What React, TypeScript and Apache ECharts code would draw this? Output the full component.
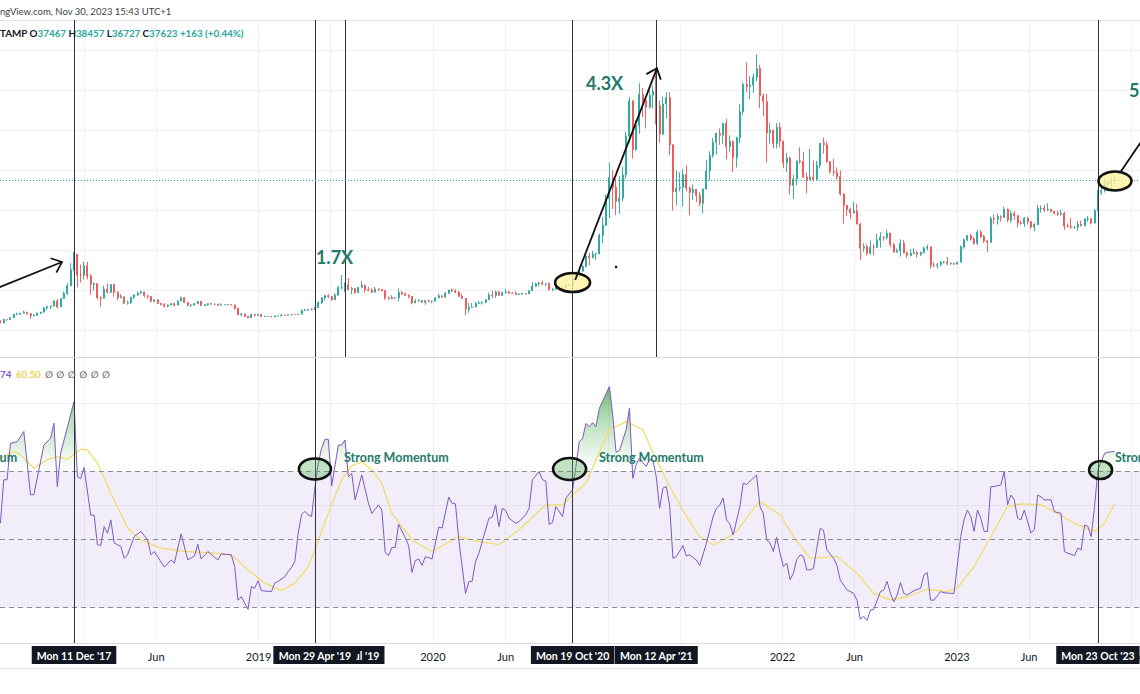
import React, { useEffect, useRef } from 'react';
import * as echarts from 'echarts';

const DAY = 86400000;
const WEEK = 7 * DAY;
const T0 = Date.UTC(2017, 6, 10); // first weekly candle: Mon 10 Jul 2017
const XMIN = T0 - 0.84 * DAY;
const XMAX = XMIN + 2384.9 * DAY;
const wk = (w: number) => T0 + w * WEEK;

// Weekly BTCUSD candles, [open, high, low, close] in $ thousands
const candles2017 = [
  [2.51,2.54,1.84,1.93],[1.93,2.95,1.93,2.75],[2.75,2.82,2.45,2.73],[2.73,3.27,2.62,3.23],[3.23,4.18,3.18,4.07],
  [4.07,4.48,3.91,4.09],[4.09,4.38,3.95,4.35],[4.35,4.98,4.30,4.58],[4.58,4.73,4.01,4.21],[4.21,4.35,2.97,3.68],
  [3.68,4.12,3.51,3.78],[3.78,4.48,3.76,4.37],[4.37,4.64,4.15,4.60],[4.60,5.86,4.57,5.69],[5.69,6.19,5.10,6.00],
  [6.00,6.20,5.38,6.14],[6.14,7.60,6.05,7.36],[7.36,7.90,5.50,5.95],[5.95,8.10,5.85,8.00],[8.00,9.75,7.95,9.30],
  [9.30,11.85,8.90,11.20],[11.20,16.85,11.10,15.20],[15.20,19.67,15.00,19.10],[19.10,19.10,10.80,13.90],[13.90,16.50,12.00,13.88],
];
const candles2018 = [
  [13.88,17.25,12.75,16.20],[16.20,17.17,12.80,13.60],[13.60,14.10,9.00,11.55],[11.55,12.00,9.98,11.75],[11.75,11.75,7.80,8.20],
  [8.20,8.56,6.00,8.10],[8.10,11.20,8.00,10.40],[10.40,11.80,9.30,9.60],[9.60,11.55,9.40,11.50],[11.50,11.70,8.50,9.55],
  [9.55,9.90,7.65,8.20],[8.20,9.10,8.10,8.45],[8.45,8.50,6.60,6.85],[6.85,7.50,6.45,7.02],[7.02,8.40,6.65,8.35],
  [8.35,9.00,7.85,8.92],[8.92,9.75,8.65,9.40],[9.40,9.99,9.05,9.65],[9.65,9.70,8.35,8.70],[8.70,8.85,7.95,8.53],
  [8.53,8.55,7.05,7.35],[7.35,7.75,7.05,7.70],[7.70,7.75,6.65,6.78],[6.78,6.90,6.30,6.50],[6.50,6.85,5.75,6.15],
  [6.15,6.45,5.80,6.39],[6.39,6.85,6.30,6.75],[6.75,6.80,6.08,6.35],[6.35,7.55,6.33,7.40],[7.40,8.50,7.35,8.20],
  [8.20,8.30,6.90,7.03],[7.03,7.15,6.10,6.30],[6.30,6.60,5.88,6.40],[6.40,6.80,6.25,6.72],[6.72,7.35,6.70,7.30],
  [7.30,7.40,6.10,6.25],[6.25,6.60,6.20,6.52],[6.52,6.80,6.15,6.71],[6.71,6.80,6.50,6.63],[6.63,6.70,6.50,6.60],
  [6.60,6.70,6.20,6.30],[6.30,6.80,6.30,6.48],[6.48,6.55,6.40,6.48],[6.48,6.55,6.30,6.48],[6.48,6.55,6.35,6.40],
  [6.40,6.45,5.20,5.60],[5.60,5.60,3.80,4.00],[4.00,4.40,3.60,4.15],[4.15,4.20,3.35,3.60],[3.60,3.60,3.12,3.20],
  [3.20,4.20,3.20,3.95],[3.95,4.25,3.60,3.85],
];
const candles2019 = [
  [3.85,4.10,3.70,4.05],[4.05,4.10,3.45,3.50],[3.50,3.75,3.50,3.55],[3.55,3.65,3.45,3.55],[3.55,3.57,3.35,3.42],
  [3.42,3.70,3.37,3.65],[3.65,3.70,3.55,3.65],[3.65,4.20,3.65,3.85],[3.85,3.90,3.70,3.82],[3.82,3.95,3.70,3.93],
  [3.93,4.05,3.82,4.00],[4.00,4.10,3.92,3.99],[3.99,4.15,3.90,4.10],[4.10,5.35,4.10,5.05],[5.05,5.45,4.90,5.08],
  [5.08,5.40,5.00,5.30],[5.30,5.65,5.05,5.20],[5.20,5.80,5.15,5.75],[5.75,7.35,5.60,6.98],[6.98,8.35,6.60,8.20],
  [8.20,8.90,7.50,8.70],[8.70,9.10,8.10,8.56],[8.56,8.60,7.45,7.70],[7.70,9.35,7.65,8.85],[8.85,11.20,8.85,10.80],
  [10.80,13.88,10.30,10.80],[10.80,12.00,9.65,11.45],[11.45,13.15,10.10,10.20],[10.20,10.95,9.10,10.50],[10.50,10.65,9.20,9.50],
  [9.50,10.90,9.35,10.80],[10.80,12.30,10.80,11.30],[11.30,11.50,9.50,10.20],[10.20,10.95,9.80,10.10],[10.10,10.60,9.35,9.60],
  [9.60,10.90,9.60,10.40],[10.40,10.45,9.90,10.30],[10.30,10.35,9.75,10.00],[10.00,10.05,7.70,8.20],[8.20,8.50,7.75,7.95],
  [7.95,8.85,7.85,8.30],[8.30,8.40,7.90,8.20],[8.20,10.54,7.30,9.55],[9.55,9.90,8.90,9.20],[9.20,9.50,8.70,8.80],
  [8.80,9.10,8.00,8.50],[8.50,8.50,6.55,6.90],[6.90,7.85,6.90,7.40],[7.40,7.80,7.25,7.50],[7.50,7.60,6.90,7.10],
  [7.10,7.60,6.45,7.50],[7.50,7.65,7.05,7.30],
];
const candles2020 = [
  [7.30,7.50,6.85,7.35],[7.35,8.45,7.35,8.15],[8.15,9.20,8.10,8.70],[8.70,8.80,8.25,8.35],[8.35,9.60,8.25,9.35],
  [9.35,10.15,9.10,10.15],[10.15,10.50,9.70,9.90],[9.90,10.30,9.30,9.65],[9.65,9.95,8.40,8.55],[8.55,9.20,7.95,8.05],
  [8.05,8.15,3.85,5.35],[5.35,6.90,4.45,5.80],[5.80,6.85,5.75,5.90],[5.90,7.20,5.85,6.80],[6.80,7.45,6.70,6.90],
  [6.90,7.30,6.50,7.10],[7.10,7.75,6.80,7.70],[7.70,9.45,7.70,8.90],[8.90,10.00,8.10,8.75],[8.75,9.95,8.20,9.65],
  [9.65,9.90,8.70,8.80],[8.80,9.75,8.65,9.45],[9.45,10.40,9.30,9.65],[9.65,9.95,9.05,9.40],[9.40,9.60,9.20,9.30],
  [9.30,9.80,8.90,9.00],[9.00,9.35,8.90,9.08],[9.08,9.45,9.05,9.25],[9.25,9.35,9.00,9.17],[9.17,10.00,9.15,9.95],
  [9.95,12.10,9.90,11.10],[11.10,12.00,10.95,11.70],[11.70,12.20,11.10,11.90],[11.90,12.50,11.40,11.65],[11.65,11.80,11.10,11.70],
  [11.70,12.05,9.90,10.25],[10.25,10.60,9.85,10.30],[10.30,11.10,10.20,10.90],[10.90,10.95,10.15,10.75],[10.75,10.95,10.40,10.65],
  [10.65,11.50,10.55,11.30],[11.30,11.70,11.20,11.50],[11.50,13.35,11.40,13.05],[13.05,14.10,12.80,13.75],[13.75,15.95,13.30,14.85],
  [14.85,16.45,14.80,16.00],[16.00,18.90,15.80,18.65],[18.65,19.45,16.30,18.20],[18.20,19.90,18.10,19.15],[19.15,19.40,17.60,19.25],
  [19.25,24.25,19.00,23.85],[23.85,28.40,21.85,26.30],
];
const candles2021 = [
  [26.30,34.00,26.10,33.00],[33.00,41.95,28.10,38.20],[38.20,40.10,30.40,35.80],[35.80,37.85,28.85,32.25],[32.25,38.55,29.20,33.10],
  [33.10,40.95,32.30,38.90],[38.90,49.70,37.90,48.60],[48.60,58.35,47.00,57.40],[57.40,57.50,43.00,45.20],[45.20,52.60,44.95,51.20],
  [51.20,61.80,49.20,59.00],[59.00,60.60,53.30,57.50],[57.50,58.40,50.50,55.80],[55.80,60.00,55.50,58.80],[58.80,61.20,55.50,59.80],
  [59.80,64.90,51.50,56.20],[56.20,57.50,47.00,49.10],[49.10,58.40,48.80,56.60],[56.60,59.50,53.00,58.20],[58.20,59.60,43.80,46.40],
  [46.40,46.60,30.00,34.70],[34.70,40.00,31.20,35.60],[35.60,39.50,34.80,35.80],[35.80,40.40,31.00,39.00],[39.00,41.30,34.80,35.60],
  [35.60,36.00,28.80,34.50],[34.50,36.50,32.70,35.30],[35.30,35.30,32.10,33.80],[33.80,34.60,31.10,31.80],[31.80,35.40,29.30,35.40],
  [35.40,42.60,35.20,39.90],[39.90,44.80,37.50,43.80],[43.80,48.10,43.20,47.00],[47.00,49.40,43.95,49.30],[49.30,50.50,46.40,48.80],
  [48.80,51.90,46.60,51.80],[51.80,52.90,42.80,46.00],[46.00,48.80,44.70,47.30],[47.30,47.50,39.60,43.20],[43.20,48.40,40.75,48.20],
  [48.20,56.60,46.90,54.70],[54.70,62.00,53.90,61.50],[61.50,67.00,59.50,60.90],[60.90,63.70,57.80,61.30],[61.30,64.30,59.40,63.30],
  [63.30,69.00,62.30,65.50],[65.50,66.40,55.60,58.70],[58.70,59.20,53.50,57.20],[57.20,59.10,42.00,49.40],[49.40,51.90,46.70,50.10],
  [50.10,50.10,45.50,46.70],[46.70,51.90,45.50,50.80],[50.80,52.00,45.70,47.30],
];
const candles2022 = [
  [47.30,47.50,40.60,41.90],[41.90,44.40,39.60,43.10],[43.10,43.50,34.00,36.30],[36.30,38.90,32.90,37.90],[37.90,42.50,36.30,42.40],
  [42.40,45.80,41.70,42.20],[42.20,44.70,38.10,38.40],[38.40,39.50,34.30,37.70],[37.70,45.40,37.60,38.40],[38.40,42.50,37.20,37.80],
  [37.80,42.40,37.60,41.30],[41.30,46.90,40.50,46.80],[46.80,48.20,44.20,46.40],[46.40,47.20,41.90,42.20],[42.20,42.40,39.20,39.70],
  [39.70,42.90,38.60,39.50],[39.50,40.80,37.70,38.50],[38.50,40.00,33.70,34.10],[34.10,34.25,26.70,31.30],[31.30,31.30,28.60,30.30],
  [30.30,30.70,28.00,29.40],[29.40,32.20,29.30,29.90],[29.90,31.60,26.60,26.60],[26.60,26.90,17.60,20.60],[20.60,21.80,19.70,21.00],
  [21.00,21.50,18.80,19.30],[19.30,22.50,19.00,20.85],[20.85,21.60,18.90,20.80],[20.80,24.20,20.70,22.60],[22.60,24.60,20.70,23.30],
  [23.30,23.60,22.40,23.20],[23.20,25.20,22.70,24.30],[24.30,24.50,20.80,21.50],[21.50,21.90,19.60,19.60],[19.60,20.50,19.55,19.95],
  [19.95,22.80,18.50,21.80],[21.80,22.65,19.30,19.40],[19.40,19.70,18.10,18.80],[18.80,20.35,18.50,19.30],[19.30,20.50,19.05,19.45],
  [19.45,19.95,18.20,19.05],[19.05,19.70,18.60,19.55],[19.55,20.98,19.25,20.60],[20.60,21.45,20.05,20.90],[20.90,21.00,15.50,16.30],
  [16.30,17.10,15.80,16.25],[16.25,16.90,15.50,16.45],[16.45,17.40,16.00,17.10],[17.10,17.40,16.75,17.10],[17.10,18.40,16.30,16.75],
  [16.75,17.05,16.40,16.84],[16.84,16.95,16.50,16.60],
];
const candles2023 = [
  [16.60,17.20,16.50,17.10],[17.10,21.30,17.10,20.90],[20.90,23.00,20.40,22.70],[22.70,23.90,22.30,23.70],[23.70,24.20,22.50,22.90],
  [22.90,23.40,21.40,21.80],[21.80,25.20,21.40,24.60],[24.60,25.10,23.10,23.50],[23.50,23.90,21.90,22.40],[22.40,22.60,19.60,22.10],
  [22.10,28.50,21.90,28.00],[28.00,28.90,26.60,27.80],[27.80,29.20,26.50,28.45],[28.45,28.80,27.20,28.30],[28.30,31.00,28.20,30.30],
  [30.30,30.50,27.10,27.60],[27.60,30.00,26.90,29.25],[29.25,29.80,27.70,28.70],[28.70,28.80,25.80,26.90],[26.90,27.50,26.40,26.75],
  [26.75,28.40,25.90,28.10],[28.10,28.45,26.50,27.20],[27.20,27.40,25.40,25.85],[25.85,26.80,24.80,26.50],[26.50,31.40,26.30,30.50],
  [30.50,31.30,29.50,30.60],[30.60,31.40,29.70,30.15],[30.15,31.80,29.90,30.25],[30.25,30.40,29.50,29.80],[29.80,29.90,29.00,29.30],
  [29.30,30.00,28.60,29.05],[29.05,30.20,28.70,29.30],[29.30,29.70,25.20,26.10],[26.10,26.80,25.80,26.00],[26.00,28.15,25.40,25.85],
  [25.85,26.10,25.40,25.85],[25.85,27.40,24.90,26.55],[26.55,27.45,26.00,26.25],[26.25,28.00,26.00,27.95],[27.95,28.60,27.20,27.95],
  [27.95,28.00,26.50,26.85],[26.85,30.40,26.80,29.95],[29.95,35.20,29.80,34.50],[34.50,35.90,33.90,35.00],[35.00,38.00,34.50,37.05],
  [37.05,37.95,34.80,36.60],[36.60,38.40,35.60,37.47],[37.47,38.46,36.73,37.62],
];

// RSI(14) read at its turning points: [week index, value]
const rsiPoints = [
  [0,54.6],[1,67.4],[2,67.4],[3,78.1],[5,78.6],[7,81.6],[9,63.0],[10,63.0],[13,77.6],[15,79.6],[16,84.0],[17,65.4],[18,75.2],[22,90.4],
  [23,68.3],[24,67.8],[25,71.0],[27,57.0],[28,57.0],[29,48.3],[30,48.1],[31,53.6],[32,51.7],[33,55.6],[34,48.8],[36,47.8],[37,44.3],
  [38,45.3],[40,50.7],[42,52.2],[44,49.7],[45,45.3],[46,46.3],[49,41.7],[51,43.8],[52,42.9],[54,51.5],[56,43.8],[58,45.0],[59,48.4],
  [60,44.1],[62,46.3],[65,43.8],[66,45.6],[69,45.3],[70,41.9],[71,32.0],[72,33.0],[74,29.3],[75,36.0],[76,35.5],[77,37.7],[78,34.8],
  [81,34.5],[82,37.0],[83,37.5],[85,38.9],[86,40.4],[87,41.6],[88,43.4],[89,51.7],[90,57.1],[91,58.1],[92,57.1],[93,56.6],[94,65.0],
  [95,72.3],[96,76.7],[97,79.3],[98,79.3],[99,65.6],[101,77.6],[102,77.6],[103,79.1],[104,68.3],[105,69.3],[106,61.5],[108,68.8],
  [110,60.5],[111,57.5],[113,60.0],[114,58.5],[115,46.0],[116,45.1],[117,47.5],[118,47.5],[119,54.3],[121,50.4],[122,48.0],[123,40.2],
  [124,43.6],[125,44.1],[126,42.2],[127,44.8],[129,44.1],[131,53.5],[132,53.2],[134,62.3],[135,60.5],[136,60.3],[137,49.7],[139,34.0],
  [140,37.4],[141,37.6],[142,43.4],[143,45.8],[146,56.1],[147,56.4],[148,60.0],[149,53.6],[150,59.0],[151,58.4],[152,56.1],[154,54.6],
  [155,55.1],[157,57.1],[158,59.0],[159,67.4],[161,69.8],[162,67.4],[163,67.0],[164,54.3],[165,54.8],[166,59.5],[168,56.6],[169,62.0],
  [171,64.4],[172,71.3],[173,78.6],[174,79.6],[175,84.0],[176,83.0],[177,84.2],[178,83.0],[179,88.4],[182,94.8],[183,86.5],[184,75.5],
  [185,76.0],[187,82.1],[188,88.4],[189,67.8],[190,71.8],[191,73.8],[192,72.5],[193,71.3],[194,73.3],[195,73.3],[196,68.3],[197,59.0],
  [198,64.9],[199,65.4],[200,60.0],[201,44.3],[202,44.8],[204,48.0],[205,45.0],[206,45.3],[208,43.8],[209,42.2],[211,48.7],[213,56.6],
  [214,59.0],[215,60.0],[216,62.0],[217,55.6],[218,54.4],[219,51.2],[221,59.5],[222,66.4],[223,66.0],[226,68.8],[227,59.5],[228,57.5],
  [229,49.7],[230,48.8],[231,46.3],[232,50.5],[233,45.8],[234,41.9],[235,42.9],[236,38.0],[237,39.9],[238,44.0],[239,45.3],[240,44.8],
  [241,40.9],[242,40.9],[243,41.4],[244,47.3],[245,53.1],[246,52.5],[247,46.8],[249,44.3],[250,42.3],[251,37.9],[253,35.0],[255,34.0],
  [256,32.0],[257,26.4],[258,27.2],[259,26.0],[260,29.1],[261,29.3],[263,34.5],[264,35.0],[265,37.5],[266,34.0],[267,31.5],[268,33.5],
  [269,37.2],[270,34.0],[271,33.5],[273,34.8],[275,35.5],[276,39.4],[277,40.1],[278,32.0],[279,32.0],[281,34.5],[282,34.2],[284,34.0],
  [285,34.0],[287,50.7],[288,55.6],[289,58.5],[290,56.6],[291,52.2],[292,58.5],[293,56.1],[294,52.2],[295,52.2],[296,65.4],[297,65.4],
  [299,65.9],[300,69.9],[301,60.0],[302,62.9],[303,61.5],[304,56.1],[305,55.6],[306,58.5],[308,51.7],[309,52.7],[310,62.9],[311,62.4],
  [312,61.5],[314,61.5],[315,58.0],[317,57.5],[318,46.3],[319,45.8],[321,45.1],[322,47.3],[323,46.8],[324,54.1],[325,53.7],[326,50.7],
  [327,59.5],[328,70.3],[329,72.7],[330,75.2],[331,75.5],[333,75.7],
];

// RSI-based MA read at its turning points: [week index, value]
const maPoints = [
  [0,73.8],[4,75.7],[6,74.8],[10,70.8],[14,73.3],[17,74.2],[20,73.4],[24,76.4],[26,76.2],[29,72.3],[33,63.5],[38,53.2],[42,49.7],
  [48,47.3],[55,46.3],[62,46.0],[69,45.3],[74,40.9],[79,37.0],[84,34.8],[88,37.0],[92,41.9],[94,46.8],[98,57.6],[102,67.4],[105,71.5],
  [108,72.7],[111,70.3],[114,66.4],[117,57.5],[123,49.7],[129,46.3],[137,50.7],[143,49.2],[149,48.3],[155,52.7],[163,60.0],[168,60.0],
  [171,63.0],[175,66.4],[178,73.3],[182,82.1],[187,84.5],[192,82.1],[196,73.3],[200,65.4],[205,56.6],[209,50.7],[213,48.3],[217,50.2],
  [220,52.2],[224,57.5],[227,61.0],[233,57.1],[237,50.7],[242,44.3],[250,44.8],[256,39.9],[261,34.0],[266,32.1],[271,33.0],[277,35.2],
  [283,34.5],[286,35.5],[291,41.9],[296,50.7],[301,59.5],[305,60.3],[311,60.0],[315,58.0],[321,54.6],[327,52.2],[330,54.6],[333,60.5],
];

const LAST_PRICE = 37.623;
const PRICE_GRID = [0, 10, 20, 30, 40, 50, 60, 70];
const RSI_GRID = [30, 60, 90];
const RSI_LEVELS = [70, 50, 30];
// grid lines on 1 Jan and 1 Jun of each year
const TIME_TICKS = [
  Date.UTC(2018, 0, 1), Date.UTC(2018, 5, 1), Date.UTC(2019, 0, 1), Date.UTC(2019, 5, 1),
  Date.UTC(2020, 0, 1), Date.UTC(2020, 5, 1), Date.UTC(2021, 0, 1), Date.UTC(2021, 5, 1),
  Date.UTC(2022, 0, 1), Date.UTC(2022, 5, 1), Date.UTC(2023, 0, 1), Date.UTC(2023, 5, 1), Date.UTC(2024, 0, 1),
];
// labelled ticks (the others sit fully under the crosshair boxes)
const TIME_LABELS = [
  Date.UTC(2018, 5, 1), Date.UTC(2019, 0, 1), Date.UTC(2020, 0, 1), Date.UTC(2020, 5, 1), Date.UTC(2021, 0, 1),
  Date.UTC(2022, 0, 1), Date.UTC(2022, 5, 1), Date.UTC(2023, 0, 1), Date.UTC(2023, 5, 1), Date.UTC(2024, 0, 1),
];
// marked weeks (vertical lines) with their crosshair labels
const markedWeeks = [22, 103, 94, 171, 196, 328];
const markedLabels = ["Mon 11 Dec '17", "Mon 01 Jul '19", "Mon 29 Apr '19", "Mon 19 Oct '20", "Mon 12 Apr '21", "Mon 23 Oct '23"];
const markedInRsi = [true, false, true, true, false, true];

// hand-drawn annotations, anchored in [week, price $k] / [week, RSI]
const ARROWS = [
  { from: [-6.1, 8.89], to: [18.41, 17.14], head: true },
  { from: [171.8, 12.64], to: [196.2, 65.53], head: true },
  { from: [334.8, 39.7], to: [343.6, 50.47], head: false },
];
const MULTIPLES = [
  { text: '1.7X', at: [94.3, 18.39] },
  { text: '4.3X', at: [175.0, 61.98] },
  { text: '5', at: [337.3, 60.11] },
];
const PRICE_RINGS = [
  { at: [171.0, 12.01], rx: 17.5, ry: 9.5 },
  { at: [333.1, 37.37], rx: 16.5, ry: 9.5 },
];
const RSI_RINGS = [
  { at: [94.0, 70.56], rx: 16, ry: 10.5 },
  { at: [170.1, 70.56], rx: 16.5, ry: 11 },
  { at: [328.8, 70.27], rx: 11.5, ry: 9 },
];
const MOMENTUM = [
  { at: [5.0, 74.09], align: 'right' },
  { at: [102.7, 74.09], align: 'left' },
  { at: [178.9, 74.09], align: 'left' },
  { at: [333.1, 74.09], align: 'left' },
];
const DOT = [184.0, 15.89];

const FONT = 'Lato, "DejaVu Sans", sans-serif';
const UP = '#26a69a';
const DOWN = '#ef5350';
const INK = '#131722';
const TEAL_TEXT = '#1f7a6c';

function buildOption() {
  const all = [...candles2017, ...candles2018, ...candles2019, ...candles2020, ...candles2021, ...candles2022, ...candles2023];
  const candleData = all.map((c, i) => [wk(i), c[0], c[3], c[2], c[1]]);
  const rsiData = rsiPoints.map(([w, v]) => [wk(w), v]);
  const maData = maPoints.map(([w, v]) => [wk(w), v]);

  const yPix = (v: number) => 358 + (103.2 - v) * (285 / 83.8);
  const greenFill = new echarts.graphic.LinearGradient(0, yPix(100), 0, yPix(70), [
    { offset: 0, color: 'rgba(46,140,52,0.95)' },
    { offset: 0.2, color: 'rgba(76,175,80,0.8)' },
    { offset: 0.5, color: 'rgba(76,175,80,0.4)' },
    { offset: 0.85, color: 'rgba(76,175,80,0.1)' },
    { offset: 1, color: 'rgba(76,175,80,0)' },
  ], true);

  const timeFmt = (v: number) => {
    const d = new Date(v);
    return d.getUTCMonth() === 0 ? String(d.getUTCFullYear()) : 'Jun';
  };

  return {
    animation: false,
    backgroundColor: '#ffffff',
    textStyle: { fontFamily: FONT },
    title: [
      {
        text: 'ngView.com, Nov 30, 2023 15:43 UTC+1', left: 0, top: 6, padding: 0,
        textStyle: { fontSize: 9.5, fontWeight: 'normal', color: '#3c3f48', fontFamily: FONT },
      },
      {
        text: '{d|TAMP O}{v|37467}{d| H}{v|38457}{d| L}{v|36727}{d| C}{v|37623}{v| +163 (+0.44%)}',
        left: 0, top: 28, padding: 0,
        textStyle: {
          rich: {
            d: { color: INK, fontSize: 9.8, fontFamily: FONT },
            v: { color: UP, fontSize: 9.8, fontFamily: FONT },
          },
        },
      },
      {
        text: '{p|74} {y|60.50} {g|\u2205 \u2205 \u2205 \u2205 \u2205 \u2205}',
        left: 0, top: 365, padding: 0,
        textStyle: {
          rich: {
            p: { color: '#7e57c2', fontSize: 9.8, fontFamily: FONT },
            y: { color: '#eed44c', fontSize: 9.8, fontFamily: FONT },
            g: { color: '#6a6d78', fontSize: 9.5, fontFamily: '"DejaVu Sans", sans-serif' },
          },
        },
      },
    ],
    grid: [
      { left: 0, right: 0, top: 20, height: 337, containLabel: false, outerBoundsMode: 'none' },
      { left: 0, right: 0, top: 358, height: 285, containLabel: false, outerBoundsMode: 'none' },
    ],
    xAxis: [
      {
        type: 'value', gridIndex: 0, min: XMIN, max: XMAX,
        axisLine: { show: true, onZero: false, lineStyle: { color: '#d6d9e0' } },
        axisTick: { show: false, customValues: TIME_TICKS },
        axisLabel: { show: false },
        splitLine: { show: true, lineStyle: { color: '#eff1f6' } },
      },
      {
        type: 'value', gridIndex: 1, min: XMIN, max: XMAX,
        axisLine: { show: true, onZero: false, lineStyle: { color: '#d6d9e0' } },
        axisTick: { show: false, customValues: TIME_TICKS },
        axisLabel: {
          show: true, customValues: TIME_LABELS, formatter: timeFmt,
          color: INK, fontSize: 11, fontFamily: FONT, margin: 8,
        },
        splitLine: { show: true, lineStyle: { color: '#eff1f6' } },
      },
    ],
    yAxis: [
      {
        type: 'value', gridIndex: 0, min: -6.6, max: 77.6,
        axisLine: { show: false }, axisLabel: { show: false },
        axisTick: { show: false, customValues: PRICE_GRID },
        splitLine: { show: true, lineStyle: { color: '#eff1f6' } },
      },
      {
        type: 'value', gridIndex: 1, min: 19.4, max: 103.2,
        axisLine: { show: false }, axisLabel: { show: false },
        axisTick: { show: false, customValues: RSI_GRID },
        splitLine: { show: true, lineStyle: { color: '#eff1f6' } },
      },
    ],
    series: [
      {
        type: 'candlestick', xAxisIndex: 0, yAxisIndex: 0, data: candleData,
        barWidth: 1.5,
        itemStyle: { color: UP, color0: DOWN, borderColor: UP, borderColor0: DOWN, borderWidth: 0.9 },
        markLine: {
          silent: true, symbol: ['none', 'none'], label: { show: false },
          data: [
            ...markedWeeks.map((w) => ({ xAxis: wk(w), lineStyle: { color: '#2f323b', width: 1, type: 'solid' } })),
            { yAxis: LAST_PRICE, lineStyle: { color: UP, width: 1, type: [1, 2] } },
          ],
        },
      },
      {
        type: 'line', xAxisIndex: 1, yAxisIndex: 1, data: maData, symbol: 'none', showSymbol: false,
        lineStyle: { color: '#f3dc6a', width: 1.3 },
        markArea: {
          silent: true, itemStyle: { color: 'rgba(126,87,194,0.1)' },
          data: [[{ yAxis: 30 }, { yAxis: 70 }]],
        },
        markLine: {
          silent: true, symbol: ['none', 'none'], label: { show: false },
          lineStyle: { color: '#8a8d96', width: 1, type: [5, 4] },
          data: RSI_LEVELS.map((v) => ({ yAxis: v })),
        },
      },
      {
        type: 'line', xAxisIndex: 1, yAxisIndex: 1, data: rsiData, symbol: 'none', showSymbol: false,
        lineStyle: { color: '#7e57c2', width: 1 },
        areaStyle: { color: greenFill, opacity: 1 },
        markLine: {
          silent: true, symbol: ['none', 'none'],
          lineStyle: { color: '#2f323b', width: 1, type: 'solid' },
          label: {
            show: true, position: 'start', distance: 3, color: '#ffffff', backgroundColor: INK,
            padding: [4, 5, 3, 5], fontSize: 10.5, fontWeight: 'bold', fontFamily: FONT,
          },
          data: markedWeeks.map((w, i) => ({
            xAxis: wk(w),
            label: { formatter: markedLabels[i] },
            lineStyle: markedInRsi[i] ? { color: '#2f323b', width: 1 } : { color: 'rgba(0,0,0,0)', width: 1 },
          })),
        },
      },
    ],
  };
}

function arrowHead(tip: number[], from: number[], len: number, deg: number) {
  const dx = from[0] - tip[0];
  const dy = from[1] - tip[1];
  const L = Math.hypot(dx, dy) || 1;
  const ux = dx / L;
  const uy = dy / L;
  const rot = (a: number) => [
    tip[0] + len * (ux * Math.cos(a) - uy * Math.sin(a)),
    tip[1] + len * (ux * Math.sin(a) + uy * Math.cos(a)),
  ];
  const r = (deg * Math.PI) / 180;
  return [rot(r), tip, rot(-r)];
}

function buildGraphics(chart: any) {
  const P = (p: number[]) => chart.convertToPixel({ gridIndex: 0 }, [wk(p[0]), p[1]]);
  const R = (p: number[]) => chart.convertToPixel({ gridIndex: 1 }, [wk(p[0]), p[1]]);
  const els: any[] = [];
  els.push({ type: 'line', silent: true, z: 1, shape: { x1: 0, y1: 20.5, x2: 1140, y2: 20.5 }, style: { stroke: '#e0e3eb', lineWidth: 1 } });
  els.push({ type: 'line', silent: true, z: 1, shape: { x1: 0, y1: 668.5, x2: 1140, y2: 668.5 }, style: { stroke: '#e0e3eb', lineWidth: 1 } });

  RSI_RINGS.forEach((c) => {
    const [cx, cy] = R(c.at);
    els.push({ type: 'ellipse', silent: true, z: 55, shape: { cx, cy, rx: c.rx, ry: c.ry }, style: { fill: 'rgba(76,175,80,0.35)', stroke: '#111', lineWidth: 2.6 } });
  });
  MOMENTUM.forEach((m) => {
    const [x, y] = R(m.at);
    els.push({ type: 'text', silent: true, z: 60, x, y, style: { text: 'Strong Momentum', fill: TEAL_TEXT, font: `bold 12.5px ${FONT}`, align: m.align, verticalAlign: 'middle' } });
  });

  PRICE_RINGS.forEach((c) => {
    const [cx, cy] = P(c.at);
    els.push({ type: 'ellipse', silent: true, z: 55, shape: { cx, cy, rx: c.rx, ry: c.ry }, style: { fill: 'rgba(255,243,160,0.8)', stroke: '#111', lineWidth: 2.6 } });
  });
  ARROWS.forEach((a) => {
    const p0 = P(a.from);
    const p1 = P(a.to);
    els.push({ type: 'polyline', silent: true, z: 60, shape: { points: [p0, p1] }, style: { stroke: '#111', lineWidth: 1.8, fill: null } });
    if (a.head) {
      els.push({ type: 'polyline', silent: true, z: 60, shape: { points: arrowHead(p1, p0, 12, 40) }, style: { stroke: '#111', lineWidth: 1.8, fill: null } });
    }
  });
  MULTIPLES.forEach((m) => {
    const [x, y] = P(m.at);
    els.push({ type: 'text', silent: true, z: 60, x, y, style: { text: m.text, fill: TEAL_TEXT, font: `bold 18px ${FONT}`, align: 'left', verticalAlign: 'middle' } });
  });
  const [dx, dy] = P(DOT);
  els.push({ type: 'circle', silent: true, z: 60, shape: { cx: dx, cy: dy, r: 1.3 }, style: { fill: '#111' } });
  return els;
}

export default function App() {
  const ref = useRef<HTMLDivElement>(null);
  useEffect(() => {
    const chart = echarts.init(ref.current as HTMLDivElement, null, { renderer: 'svg', width: 1140, height: 694 });
    chart.setOption(buildOption() as any);
    chart.setOption({ graphic: buildGraphics(chart) } as any);
    return () => chart.dispose();
  }, []);
  return (
    <div
      ref={ref}
      style={{ position: 'fixed', left: 0, top: 0, width: 1140, height: 694, background: '#ffffff' }}
    />
  );
}
